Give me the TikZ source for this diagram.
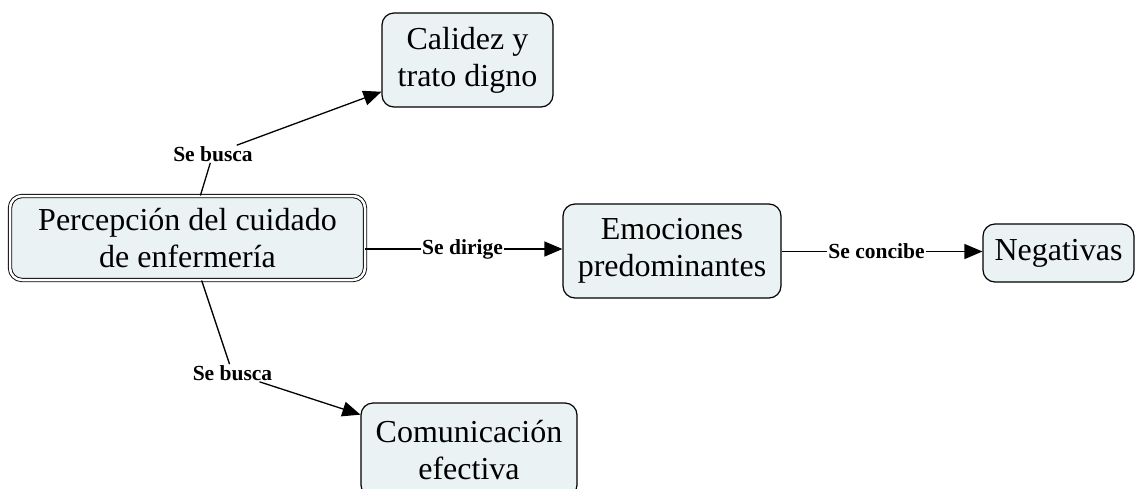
\documentclass[tikz,border=0pt]{standalone}
\usepackage{fontspec}
\setmainfont{Liberation Serif}
\usetikzlibrary{arrows.meta}
\definecolor{boxfill}{HTML}{EAF2F4}
\begin{document}
\begin{tikzpicture}[x=1pt,y=-1pt,
  concept/.style={draw, line width=1.2pt, rounded corners=12pt, fill=boxfill, align=center,
    font=\fontsize{32}{37}\selectfont, inner sep=0pt},
  mainconcept/.style={concept, line width=0.9pt, double=white, double distance=2.5pt},
  linklabel/.style={font=\bfseries\fontsize{21.5}{25}\selectfont, inner sep=1pt},
  link/.style={line width=1.3pt},
  arr/.style={link, -{Triangle[length=18pt,width=15pt]}}]
\useasboundingbox (0,0) rectangle (1135,488);
\node[mainconcept, minimum width=355pt, minimum height=84pt] (main) at (187.5,238) {Percepción del cuidado\\de enfermería};
\node[concept, minimum width=171pt, minimum height=94pt] (cal) at (467.5,60) {Calidez y\\trato digno};
\node[concept, minimum width=218pt, minimum height=94pt] (emo) at (672,251) {Emociones\\predominantes};
\node[concept, minimum width=151pt, minimum height=58pt] (neg) at (1058.5,253) {Negativas};
\node[concept, minimum width=216pt, minimum height=94pt] (com) at (469,450) {Comunicación\\efectiva};
\node[linklabel] (lab1) at (213,154) {Se busca};
\node[linklabel] (lab2) at (232.5,373) {Se busca};
\node[linklabel] (lab3) at (462.5,249) {Se dirige};
\node[linklabel] (lab4) at (876.5,251.5) {Se concibe};
\draw[link] (lab1) -- (main);
\draw[arr] (lab1) -- (cal);
\draw[link] (lab2) -- (main);
\draw[arr] (lab2) -- (com);
\draw[link] (main.east |- lab3) -- (lab3);
\draw[arr] (lab3) -- (lab3 -| emo.west);
\draw[link] (emo.east |- lab4) -- (lab4);
\draw[arr] (lab4) -- (lab4 -| neg.west);
\end{tikzpicture}
\end{document}
